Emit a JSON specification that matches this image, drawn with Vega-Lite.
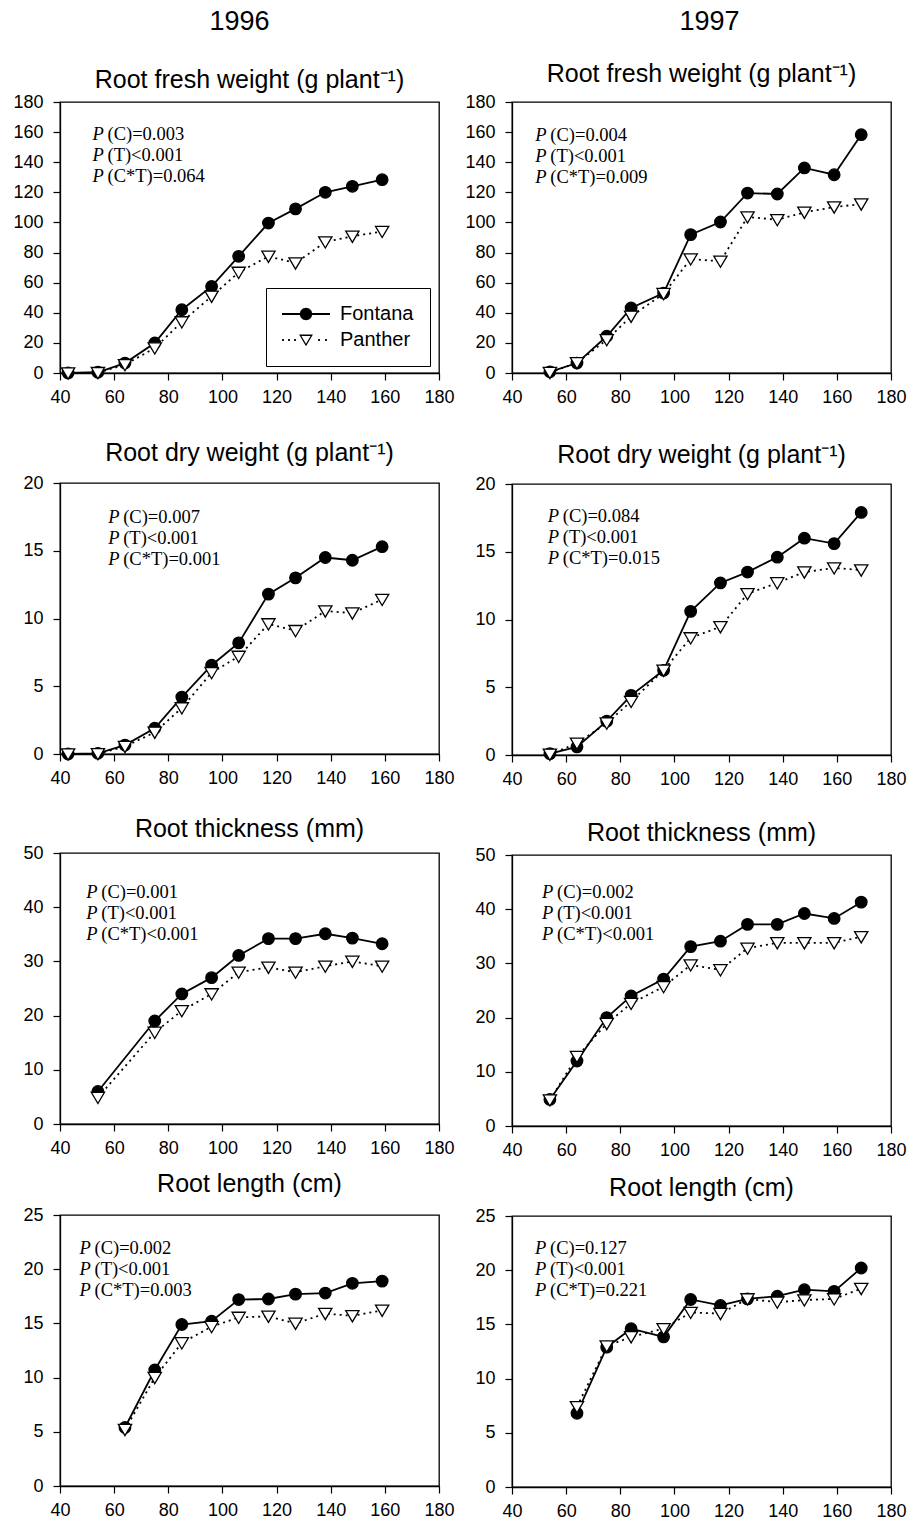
{
  "$schema": "https://vega.github.io/schema/vega-lite/v6.json",
  "padding": {"left": 12, "top": 8, "right": 4, "bottom": 4},
  "background": "white",
  "datasets": {
    "roots": [
      {"year":1996,"trait":"fresh","cultivar":"Fontana","day":43,"value":0},
      {"year":1996,"trait":"fresh","cultivar":"Fontana","day":54,"value":0.5},
      {"year":1996,"trait":"fresh","cultivar":"Fontana","day":64,"value":6.6},
      {"year":1996,"trait":"fresh","cultivar":"Fontana","day":75,"value":19.9},
      {"year":1996,"trait":"fresh","cultivar":"Fontana","day":85,"value":42},
      {"year":1996,"trait":"fresh","cultivar":"Fontana","day":96,"value":57.5},
      {"year":1996,"trait":"fresh","cultivar":"Fontana","day":106,"value":77.5},
      {"year":1996,"trait":"fresh","cultivar":"Fontana","day":117,"value":99.6},
      {"year":1996,"trait":"fresh","cultivar":"Fontana","day":127,"value":109},
      {"year":1996,"trait":"fresh","cultivar":"Fontana","day":138,"value":120},
      {"year":1996,"trait":"fresh","cultivar":"Fontana","day":148,"value":124},
      {"year":1996,"trait":"fresh","cultivar":"Fontana","day":159,"value":128.4},
      {"year":1996,"trait":"fresh","cultivar":"Panther","day":43,"value":0},
      {"year":1996,"trait":"fresh","cultivar":"Panther","day":54,"value":0.2},
      {"year":1996,"trait":"fresh","cultivar":"Panther","day":64,"value":5.5},
      {"year":1996,"trait":"fresh","cultivar":"Panther","day":75,"value":16.6},
      {"year":1996,"trait":"fresh","cultivar":"Panther","day":85,"value":33.9},
      {"year":1996,"trait":"fresh","cultivar":"Panther","day":96,"value":50.9},
      {"year":1996,"trait":"fresh","cultivar":"Panther","day":106,"value":66.8},
      {"year":1996,"trait":"fresh","cultivar":"Panther","day":117,"value":77.5},
      {"year":1996,"trait":"fresh","cultivar":"Panther","day":127,"value":73},
      {"year":1996,"trait":"fresh","cultivar":"Panther","day":138,"value":87},
      {"year":1996,"trait":"fresh","cultivar":"Panther","day":148,"value":90.8},
      {"year":1996,"trait":"fresh","cultivar":"Panther","day":159,"value":94},

      {"year":1997,"trait":"fresh","cultivar":"Fontana","day":54,"value":0.8},
      {"year":1997,"trait":"fresh","cultivar":"Fontana","day":64,"value":6.6},
      {"year":1997,"trait":"fresh","cultivar":"Fontana","day":75,"value":24.4},
      {"year":1997,"trait":"fresh","cultivar":"Fontana","day":84,"value":43.2},
      {"year":1997,"trait":"fresh","cultivar":"Fontana","day":96,"value":53.1},
      {"year":1997,"trait":"fresh","cultivar":"Fontana","day":106,"value":91.9},
      {"year":1997,"trait":"fresh","cultivar":"Fontana","day":117,"value":100.3},
      {"year":1997,"trait":"fresh","cultivar":"Fontana","day":127,"value":119.5},
      {"year":1997,"trait":"fresh","cultivar":"Fontana","day":138,"value":118.9},
      {"year":1997,"trait":"fresh","cultivar":"Fontana","day":148,"value":136.2},
      {"year":1997,"trait":"fresh","cultivar":"Fontana","day":159,"value":131.7},
      {"year":1997,"trait":"fresh","cultivar":"Fontana","day":169,"value":158.3},
      {"year":1997,"trait":"fresh","cultivar":"Panther","day":54,"value":0.3},
      {"year":1997,"trait":"fresh","cultivar":"Panther","day":64,"value":6.8},
      {"year":1997,"trait":"fresh","cultivar":"Panther","day":75,"value":22.1},
      {"year":1997,"trait":"fresh","cultivar":"Panther","day":84,"value":37.6},
      {"year":1997,"trait":"fresh","cultivar":"Panther","day":96,"value":52.7},
      {"year":1997,"trait":"fresh","cultivar":"Panther","day":106,"value":75.7},
      {"year":1997,"trait":"fresh","cultivar":"Panther","day":117,"value":74.2},
      {"year":1997,"trait":"fresh","cultivar":"Panther","day":127,"value":103.6},
      {"year":1997,"trait":"fresh","cultivar":"Panther","day":138,"value":101.8},
      {"year":1997,"trait":"fresh","cultivar":"Panther","day":148,"value":106.7},
      {"year":1997,"trait":"fresh","cultivar":"Panther","day":159,"value":110.2},
      {"year":1997,"trait":"fresh","cultivar":"Panther","day":169,"value":112.2},

      {"year":1996,"trait":"dry","cultivar":"Fontana","day":43,"value":0},
      {"year":1996,"trait":"dry","cultivar":"Fontana","day":54,"value":0.05},
      {"year":1996,"trait":"dry","cultivar":"Fontana","day":64,"value":0.66},
      {"year":1996,"trait":"dry","cultivar":"Fontana","day":75,"value":1.9},
      {"year":1996,"trait":"dry","cultivar":"Fontana","day":85,"value":4.2},
      {"year":1996,"trait":"dry","cultivar":"Fontana","day":96,"value":6.55},
      {"year":1996,"trait":"dry","cultivar":"Fontana","day":106,"value":8.2},
      {"year":1996,"trait":"dry","cultivar":"Fontana","day":117,"value":11.8},
      {"year":1996,"trait":"dry","cultivar":"Fontana","day":127,"value":13.0},
      {"year":1996,"trait":"dry","cultivar":"Fontana","day":138,"value":14.5},
      {"year":1996,"trait":"dry","cultivar":"Fontana","day":148,"value":14.3},
      {"year":1996,"trait":"dry","cultivar":"Fontana","day":159,"value":15.3},
      {"year":1996,"trait":"dry","cultivar":"Panther","day":43,"value":0},
      {"year":1996,"trait":"dry","cultivar":"Panther","day":54,"value":0.02},
      {"year":1996,"trait":"dry","cultivar":"Panther","day":64,"value":0.55},
      {"year":1996,"trait":"dry","cultivar":"Panther","day":75,"value":1.6},
      {"year":1996,"trait":"dry","cultivar":"Panther","day":85,"value":3.4},
      {"year":1996,"trait":"dry","cultivar":"Panther","day":96,"value":6.0},
      {"year":1996,"trait":"dry","cultivar":"Panther","day":106,"value":7.2},
      {"year":1996,"trait":"dry","cultivar":"Panther","day":117,"value":9.6},
      {"year":1996,"trait":"dry","cultivar":"Panther","day":127,"value":9.1},
      {"year":1996,"trait":"dry","cultivar":"Panther","day":138,"value":10.55},
      {"year":1996,"trait":"dry","cultivar":"Panther","day":148,"value":10.4},
      {"year":1996,"trait":"dry","cultivar":"Panther","day":159,"value":11.4},

      {"year":1997,"trait":"dry","cultivar":"Fontana","day":54,"value":0.1},
      {"year":1997,"trait":"dry","cultivar":"Fontana","day":64,"value":0.6},
      {"year":1997,"trait":"dry","cultivar":"Fontana","day":75,"value":2.5},
      {"year":1997,"trait":"dry","cultivar":"Fontana","day":84,"value":4.4},
      {"year":1997,"trait":"dry","cultivar":"Fontana","day":96,"value":6.25},
      {"year":1997,"trait":"dry","cultivar":"Fontana","day":106,"value":10.6},
      {"year":1997,"trait":"dry","cultivar":"Fontana","day":117,"value":12.7},
      {"year":1997,"trait":"dry","cultivar":"Fontana","day":127,"value":13.5},
      {"year":1997,"trait":"dry","cultivar":"Fontana","day":138,"value":14.6},
      {"year":1997,"trait":"dry","cultivar":"Fontana","day":148,"value":16.0},
      {"year":1997,"trait":"dry","cultivar":"Fontana","day":159,"value":15.6},
      {"year":1997,"trait":"dry","cultivar":"Fontana","day":169,"value":17.9},
      {"year":1997,"trait":"dry","cultivar":"Panther","day":54,"value":0.05},
      {"year":1997,"trait":"dry","cultivar":"Panther","day":64,"value":0.86},
      {"year":1997,"trait":"dry","cultivar":"Panther","day":75,"value":2.35},
      {"year":1997,"trait":"dry","cultivar":"Panther","day":84,"value":3.95},
      {"year":1997,"trait":"dry","cultivar":"Panther","day":96,"value":6.25},
      {"year":1997,"trait":"dry","cultivar":"Panther","day":106,"value":8.64},
      {"year":1997,"trait":"dry","cultivar":"Panther","day":117,"value":9.46},
      {"year":1997,"trait":"dry","cultivar":"Panther","day":127,"value":11.9},
      {"year":1997,"trait":"dry","cultivar":"Panther","day":138,"value":12.7},
      {"year":1997,"trait":"dry","cultivar":"Panther","day":148,"value":13.5},
      {"year":1997,"trait":"dry","cultivar":"Panther","day":159,"value":13.8},
      {"year":1997,"trait":"dry","cultivar":"Panther","day":169,"value":13.65},

      {"year":1996,"trait":"thick","cultivar":"Fontana","day":54,"value":6.0},
      {"year":1996,"trait":"thick","cultivar":"Fontana","day":75,"value":19.0},
      {"year":1996,"trait":"thick","cultivar":"Fontana","day":85,"value":24.0},
      {"year":1996,"trait":"thick","cultivar":"Fontana","day":96,"value":27.0},
      {"year":1996,"trait":"thick","cultivar":"Fontana","day":106,"value":31.1},
      {"year":1996,"trait":"thick","cultivar":"Fontana","day":117,"value":34.2},
      {"year":1996,"trait":"thick","cultivar":"Fontana","day":127,"value":34.2},
      {"year":1996,"trait":"thick","cultivar":"Fontana","day":138,"value":35.1},
      {"year":1996,"trait":"thick","cultivar":"Fontana","day":148,"value":34.3},
      {"year":1996,"trait":"thick","cultivar":"Fontana","day":159,"value":33.25},
      {"year":1996,"trait":"thick","cultivar":"Panther","day":54,"value":4.9},
      {"year":1996,"trait":"thick","cultivar":"Panther","day":75,"value":16.9},
      {"year":1996,"trait":"thick","cultivar":"Panther","day":85,"value":20.9},
      {"year":1996,"trait":"thick","cultivar":"Panther","day":96,"value":24.0},
      {"year":1996,"trait":"thick","cultivar":"Panther","day":106,"value":28.0},
      {"year":1996,"trait":"thick","cultivar":"Panther","day":117,"value":28.9},
      {"year":1996,"trait":"thick","cultivar":"Panther","day":127,"value":28.0},
      {"year":1996,"trait":"thick","cultivar":"Panther","day":138,"value":29.1},
      {"year":1996,"trait":"thick","cultivar":"Panther","day":148,"value":30.0},
      {"year":1996,"trait":"thick","cultivar":"Panther","day":159,"value":29.1},

      {"year":1997,"trait":"thick","cultivar":"Fontana","day":54,"value":4.9},
      {"year":1997,"trait":"thick","cultivar":"Fontana","day":64,"value":12.0},
      {"year":1997,"trait":"thick","cultivar":"Fontana","day":75,"value":20.0},
      {"year":1997,"trait":"thick","cultivar":"Fontana","day":84,"value":24.0},
      {"year":1997,"trait":"thick","cultivar":"Fontana","day":96,"value":27.1},
      {"year":1997,"trait":"thick","cultivar":"Fontana","day":106,"value":33.1},
      {"year":1997,"trait":"thick","cultivar":"Fontana","day":117,"value":34.1},
      {"year":1997,"trait":"thick","cultivar":"Fontana","day":127,"value":37.2},
      {"year":1997,"trait":"thick","cultivar":"Fontana","day":138,"value":37.2},
      {"year":1997,"trait":"thick","cultivar":"Fontana","day":148,"value":39.2},
      {"year":1997,"trait":"thick","cultivar":"Fontana","day":159,"value":38.3},
      {"year":1997,"trait":"thick","cultivar":"Fontana","day":169,"value":41.3},
      {"year":1997,"trait":"thick","cultivar":"Panther","day":54,"value":4.8},
      {"year":1997,"trait":"thick","cultivar":"Panther","day":64,"value":12.8},
      {"year":1997,"trait":"thick","cultivar":"Panther","day":75,"value":18.9},
      {"year":1997,"trait":"thick","cultivar":"Panther","day":84,"value":22.6},
      {"year":1997,"trait":"thick","cultivar":"Panther","day":96,"value":25.7},
      {"year":1997,"trait":"thick","cultivar":"Panther","day":106,"value":29.7},
      {"year":1997,"trait":"thick","cultivar":"Panther","day":117,"value":28.8},
      {"year":1997,"trait":"thick","cultivar":"Panther","day":127,"value":32.8},
      {"year":1997,"trait":"thick","cultivar":"Panther","day":138,"value":33.8},
      {"year":1997,"trait":"thick","cultivar":"Panther","day":148,"value":33.8},
      {"year":1997,"trait":"thick","cultivar":"Panther","day":159,"value":33.8},
      {"year":1997,"trait":"thick","cultivar":"Panther","day":169,"value":34.9},

      {"year":1996,"trait":"length","cultivar":"Fontana","day":64,"value":5.4},
      {"year":1996,"trait":"length","cultivar":"Fontana","day":75,"value":10.7},
      {"year":1996,"trait":"length","cultivar":"Fontana","day":85,"value":14.9},
      {"year":1996,"trait":"length","cultivar":"Fontana","day":96,"value":15.2},
      {"year":1996,"trait":"length","cultivar":"Fontana","day":106,"value":17.2},
      {"year":1996,"trait":"length","cultivar":"Fontana","day":117,"value":17.25},
      {"year":1996,"trait":"length","cultivar":"Fontana","day":127,"value":17.7},
      {"year":1996,"trait":"length","cultivar":"Fontana","day":138,"value":17.8},
      {"year":1996,"trait":"length","cultivar":"Fontana","day":148,"value":18.7},
      {"year":1996,"trait":"length","cultivar":"Fontana","day":159,"value":18.9},
      {"year":1996,"trait":"length","cultivar":"Panther","day":64,"value":5.2},
      {"year":1996,"trait":"length","cultivar":"Panther","day":75,"value":10.0},
      {"year":1996,"trait":"length","cultivar":"Panther","day":85,"value":13.2},
      {"year":1996,"trait":"length","cultivar":"Panther","day":96,"value":14.7},
      {"year":1996,"trait":"length","cultivar":"Panther","day":106,"value":15.55},
      {"year":1996,"trait":"length","cultivar":"Panther","day":117,"value":15.65},
      {"year":1996,"trait":"length","cultivar":"Panther","day":127,"value":15.0},
      {"year":1996,"trait":"length","cultivar":"Panther","day":138,"value":15.9},
      {"year":1996,"trait":"length","cultivar":"Panther","day":148,"value":15.7},
      {"year":1996,"trait":"length","cultivar":"Panther","day":159,"value":16.2},

      {"year":1997,"trait":"length","cultivar":"Fontana","day":64,"value":6.8},
      {"year":1997,"trait":"length","cultivar":"Fontana","day":75,"value":12.9},
      {"year":1997,"trait":"length","cultivar":"Fontana","day":84,"value":14.6},
      {"year":1997,"trait":"length","cultivar":"Fontana","day":96,"value":13.85},
      {"year":1997,"trait":"length","cultivar":"Fontana","day":106,"value":17.3},
      {"year":1997,"trait":"length","cultivar":"Fontana","day":117,"value":16.75},
      {"year":1997,"trait":"length","cultivar":"Fontana","day":127,"value":17.35},
      {"year":1997,"trait":"length","cultivar":"Fontana","day":138,"value":17.6},
      {"year":1997,"trait":"length","cultivar":"Fontana","day":148,"value":18.2},
      {"year":1997,"trait":"length","cultivar":"Fontana","day":159,"value":18.05},
      {"year":1997,"trait":"length","cultivar":"Fontana","day":169,"value":20.2},
      {"year":1997,"trait":"length","cultivar":"Panther","day":64,"value":7.4},
      {"year":1997,"trait":"length","cultivar":"Panther","day":75,"value":13.0},
      {"year":1997,"trait":"length","cultivar":"Panther","day":84,"value":13.85},
      {"year":1997,"trait":"length","cultivar":"Panther","day":96,"value":14.6},
      {"year":1997,"trait":"length","cultivar":"Panther","day":106,"value":16.1},
      {"year":1997,"trait":"length","cultivar":"Panther","day":117,"value":16.0},
      {"year":1997,"trait":"length","cultivar":"Panther","day":127,"value":17.35},
      {"year":1997,"trait":"length","cultivar":"Panther","day":138,"value":17.05},
      {"year":1997,"trait":"length","cultivar":"Panther","day":148,"value":17.25},
      {"year":1997,"trait":"length","cultivar":"Panther","day":159,"value":17.35},
      {"year":1997,"trait":"length","cultivar":"Panther","day":169,"value":18.3}
    ]
  },
  "config": {
    "view": {"stroke": "black", "strokeWidth": 1.3},
    "axis": {"grid": false, "domainColor": "black", "domainWidth": 1.3, "tickColor": "black", "tickWidth": 1.2, "tickSize": 7, "labelColor": "black", "labelFont": "Liberation Sans", "labelFontSize": 18, "labelFlush": false, "labelOverlap": false},
    "axisY": {"labelPadding": 10},
    "axisX": {"labelPadding": 8},
    "title": {"font": "Liberation Sans", "fontSize": 25, "fontWeight": "normal", "color": "black", "frame": "group", "anchor": "middle", "baseline": "alphabetic"}
  },
  "resolve": {"scale": {"shape": "independent", "fill": "independent"}, "legend": {"shape": "independent", "fill": "independent"}},
  "spacing": 9,
  "hconcat": [
    {
      "title": {"text": "1996", "fontSize": 27, "offset": 31, "dx": 6, "frame": "bounds"},
      "bounds": "flush",
      "spacing": 110,
      "resolve": {"scale": {"shape": "independent", "fill": "independent"}, "legend": {"shape": "independent", "fill": "independent"}},
      "vconcat": [
        {
          "title": {"text": "Root fresh weight (g plant⁻¹)", "offset": 0},
          "width": 379, "height": 271,
          "data": {"name": "roots"},
          "transform": [{"filter": "datum.year === 1996 && datum.trait === 'fresh'"}],
          "encoding": {
            "x": {"field": "day", "type": "quantitative", "scale": {"domain": [40, 180], "nice": false, "zero": false}, "axis": {"title": null, "values": [40, 60, 80, 100, 120, 140, 160, 180]}},
            "y": {"field": "value", "type": "quantitative", "scale": {"domain": [0, 180], "nice": false}, "axis": {"title": null, "values": [0, 20, 40, 60, 80, 100, 120, 140, 160, 180]}}
          },
          "resolve": {"scale": {"shape": "independent", "fill": "independent"}, "legend": {"shape": "independent", "fill": "independent"}},
          "layer": [
            {"transform": [{"filter": "datum.cultivar === 'Fontana'"}], "mark": {"type": "line", "color": "black", "strokeWidth": 1.8}, "encoding": {}},
            {"transform": [{"filter": "datum.cultivar === 'Panther'"}], "mark": {"type": "line", "color": "black", "strokeWidth": 1.8, "strokeDash": [2, 4]}, "encoding": {}},
            {"mark": {"type": "point", "filled": true, "size": 133, "stroke": "black", "strokeWidth": 1.3, "opacity": 1},
             "encoding": {
               "shape": {"field": "cultivar", "type": "nominal", "scale": {"domain": ["Fontana", "Panther"], "range": ["circle", "M-1.15,-0.9L1.15,-0.9L0,1.05Z"]}, "legend": null},
               "fill": {"field": "cultivar", "type": "nominal", "scale": {"domain": ["Fontana", "Panther"], "range": ["black", "white"]}, "legend": null}
             }},
            {"mark": {"type": "point", "filled": true, "size": 133, "opacity": 0},
             "encoding": {
               "shape": {"field": "cultivar", "type": "nominal", "title": null,
                 "scale": {"domain": ["Fontana", "Panther"], "range": [
                   "M-4,-0.15L4,-0.15L4,0.15L-4,0.15Z M1.05,0L0.909,0.525L0.525,0.909L0,1.05L-0.525,0.909L-0.909,0.525L-1.05,0L-0.909,-0.525L-0.525,-0.909L0,-1.05L0.525,-0.909L0.909,-0.525Z",
                   "M-1.15,-0.9L1.15,-0.9L0,1.05Z M-0.765,-0.68L0,0.617L0.765,-0.68Z M-3.98,-0.15L-3.68,-0.15L-3.68,0.15L-3.98,0.15Z M-2.98,-0.15L-2.68,-0.15L-2.68,0.15L-2.98,0.15Z M-1.98,-0.15L-1.68,-0.15L-1.68,0.15L-1.98,0.15Z M2.02,-0.15L2.32,-0.15L2.32,0.15L2.02,0.15Z M3.18,-0.15L3.48,-0.15L3.48,0.15L3.18,0.15Z"]},
                 "legend": {"orient": "none", "legendX": 206, "legendY": 186, "title": null, "strokeColor": "black", "fillColor": "white", "padding": 16, "labelFont": "Liberation Sans", "labelFontSize": 20, "labelColor": "black", "symbolSize": 144, "symbolOffset": 14, "labelOffset": 24, "rowPadding": 6, "symbolOpacity": 1, "symbolStrokeWidth": 0, "symbolFillColor": "black"}},
               "fill": {"field": "cultivar", "type": "nominal", "title": null, "scale": {"domain": ["Fontana", "Panther"], "range": ["black", "black"]}}
             }},
            {"data": {"values": [{"day": 52, "value": 155, "label": "(C)=0.003\n(T)<0.001\n(C*T)=0.064"}]}, "mark": {"type": "text", "text": "P\nP\nP", "lineBreak": "\n", "lineHeight": 21, "font": "Liberation Serif", "fontSize": 18.5, "fontStyle": "italic", "align": "left", "baseline": "alphabetic", "color": "black"}, "encoding": {}},
            {"data": {"values": [{"day": 52, "value": 155, "label": "(C)=0.003\n(T)<0.001\n(C*T)=0.064"}]}, "mark": {"type": "text", "lineBreak": "\n", "lineHeight": 21, "font": "Liberation Serif", "fontSize": 18.5, "align": "left", "baseline": "alphabetic", "dx": 15, "color": "black"}, "encoding": {"text": {"field": "label"}}}
          ]
        },
        {
          "bounds": "flush",
          "spacing": 99,
          "resolve": {"scale": {"shape": "independent", "fill": "independent"}, "legend": {"shape": "independent", "fill": "independent"}},
          "vconcat": [
            {
              "title": {"text": "Root dry weight (g plant⁻¹)", "offset": 8},
              "width": 379, "height": 271,
              "data": {"name": "roots"},
              "transform": [{"filter": "datum.year === 1996 && datum.trait === 'dry'"}],
              "encoding": {
                "x": {"field": "day", "type": "quantitative", "scale": {"domain": [40, 180], "nice": false, "zero": false}, "axis": {"title": null, "values": [40, 60, 80, 100, 120, 140, 160, 180]}},
                "y": {"field": "value", "type": "quantitative", "scale": {"domain": [0, 20], "nice": false}, "axis": {"title": null, "values": [0, 5, 10, 15, 20]}}
              },
              "layer": [
                {"transform": [{"filter": "datum.cultivar === 'Fontana'"}], "mark": {"type": "line", "color": "black", "strokeWidth": 1.8}, "encoding": {}},
                {"transform": [{"filter": "datum.cultivar === 'Panther'"}], "mark": {"type": "line", "color": "black", "strokeWidth": 1.8, "strokeDash": [2, 4]}, "encoding": {}},
                {"mark": {"type": "point", "filled": true, "size": 133, "stroke": "black", "strokeWidth": 1.3, "opacity": 1},
                 "encoding": {
                   "shape": {"field": "cultivar", "type": "nominal", "scale": {"domain": ["Fontana", "Panther"], "range": ["circle", "M-1.15,-0.9L1.15,-0.9L0,1.05Z"]}, "legend": null},
                   "fill": {"field": "cultivar", "type": "nominal", "scale": {"domain": ["Fontana", "Panther"], "range": ["black", "white"]}, "legend": null}
                 }},
                {"data": {"values": [{"day": 57.8, "value": 17.05, "label": "(C)=0.007\n(T)<0.001\n(C*T)=0.001"}]}, "mark": {"type": "text", "text": "P\nP\nP", "lineBreak": "\n", "lineHeight": 21, "font": "Liberation Serif", "fontSize": 18.5, "fontStyle": "italic", "align": "left", "baseline": "alphabetic", "color": "black"}, "encoding": {}},
                {"data": {"values": [{"day": 57.8, "value": 17.05, "label": "(C)=0.007\n(T)<0.001\n(C*T)=0.001"}]}, "mark": {"type": "text", "lineBreak": "\n", "lineHeight": 21, "font": "Liberation Serif", "fontSize": 18.5, "align": "left", "baseline": "alphabetic", "dx": 15, "color": "black"}, "encoding": {"text": {"field": "label"}}}
              ]
            },
            {
              "bounds": "flush",
              "spacing": 91,
              "resolve": {"scale": {"shape": "independent", "fill": "independent"}, "legend": {"shape": "independent", "fill": "independent"}},
              "vconcat": [
                {
                  "title": {"text": "Root thickness (mm)", "offset": 2},
                  "width": 379, "height": 271,
                  "data": {"name": "roots"},
                  "transform": [{"filter": "datum.year === 1996 && datum.trait === 'thick'"}],
                  "encoding": {
                    "x": {"field": "day", "type": "quantitative", "scale": {"domain": [40, 180], "nice": false, "zero": false}, "axis": {"title": null, "values": [40, 60, 80, 100, 120, 140, 160, 180]}},
                    "y": {"field": "value", "type": "quantitative", "scale": {"domain": [0, 50], "nice": false}, "axis": {"title": null, "values": [0, 10, 20, 30, 40, 50]}}
                  },
                  "layer": [
                    {"transform": [{"filter": "datum.cultivar === 'Fontana'"}], "mark": {"type": "line", "color": "black", "strokeWidth": 1.8}, "encoding": {}},
                    {"transform": [{"filter": "datum.cultivar === 'Panther'"}], "mark": {"type": "line", "color": "black", "strokeWidth": 1.8, "strokeDash": [2, 4]}, "encoding": {}},
                    {"mark": {"type": "point", "filled": true, "size": 133, "stroke": "black", "strokeWidth": 1.3, "opacity": 1},
                     "encoding": {
                       "shape": {"field": "cultivar", "type": "nominal", "scale": {"domain": ["Fontana", "Panther"], "range": ["circle", "M-1.15,-0.9L1.15,-0.9L0,1.05Z"]}, "legend": null},
                       "fill": {"field": "cultivar", "type": "nominal", "scale": {"domain": ["Fontana", "Panther"], "range": ["black", "white"]}, "legend": null}
                     }},
                    {"data": {"values": [{"day": 49.7, "value": 41.7, "label": "(C)=0.001\n(T)<0.001\n(C*T)<0.001"}]}, "mark": {"type": "text", "text": "P\nP\nP", "lineBreak": "\n", "lineHeight": 21, "font": "Liberation Serif", "fontSize": 18.5, "fontStyle": "italic", "align": "left", "baseline": "alphabetic", "color": "black"}, "encoding": {}},
                    {"data": {"values": [{"day": 49.7, "value": 41.7, "label": "(C)=0.001\n(T)<0.001\n(C*T)<0.001"}]}, "mark": {"type": "text", "lineBreak": "\n", "lineHeight": 21, "font": "Liberation Serif", "fontSize": 18.5, "align": "left", "baseline": "alphabetic", "dx": 15, "color": "black"}, "encoding": {"text": {"field": "label"}}}
                  ]
                },
                {
                  "title": {"text": "Root length (cm)", "offset": 9},
                  "width": 379, "height": 271,
                  "data": {"name": "roots"},
                  "transform": [{"filter": "datum.year === 1996 && datum.trait === 'length'"}],
                  "encoding": {
                    "x": {"field": "day", "type": "quantitative", "scale": {"domain": [40, 180], "nice": false, "zero": false}, "axis": {"title": null, "values": [40, 60, 80, 100, 120, 140, 160, 180]}},
                    "y": {"field": "value", "type": "quantitative", "scale": {"domain": [0, 25], "nice": false}, "axis": {"title": null, "values": [0, 5, 10, 15, 20, 25]}}
                  },
                  "layer": [
                    {"transform": [{"filter": "datum.cultivar === 'Fontana'"}], "mark": {"type": "line", "color": "black", "strokeWidth": 1.8}, "encoding": {}},
                    {"transform": [{"filter": "datum.cultivar === 'Panther'"}], "mark": {"type": "line", "color": "black", "strokeWidth": 1.8, "strokeDash": [2, 4]}, "encoding": {}},
                    {"mark": {"type": "point", "filled": true, "size": 133, "stroke": "black", "strokeWidth": 1.3, "opacity": 1},
                     "encoding": {
                       "shape": {"field": "cultivar", "type": "nominal", "scale": {"domain": ["Fontana", "Panther"], "range": ["circle", "M-1.15,-0.9L1.15,-0.9L0,1.05Z"]}, "legend": null},
                       "fill": {"field": "cultivar", "type": "nominal", "scale": {"domain": ["Fontana", "Panther"], "range": ["black", "white"]}, "legend": null}
                     }},
                    {"data": {"values": [{"day": 47.2, "value": 21.4, "label": "(C)=0.002\n(T)<0.001\n(C*T)=0.003"}]}, "mark": {"type": "text", "text": "P\nP\nP", "lineBreak": "\n", "lineHeight": 21, "font": "Liberation Serif", "fontSize": 18.5, "fontStyle": "italic", "align": "left", "baseline": "alphabetic", "color": "black"}, "encoding": {}},
                    {"data": {"values": [{"day": 47.2, "value": 21.4, "label": "(C)=0.002\n(T)<0.001\n(C*T)=0.003"}]}, "mark": {"type": "text", "lineBreak": "\n", "lineHeight": 21, "font": "Liberation Serif", "fontSize": 18.5, "align": "left", "baseline": "alphabetic", "dx": 15, "color": "black"}, "encoding": {"text": {"field": "label"}}}
                  ]
                }
              ]
            }
          ]
        }
      ]
    },
    {
      "title": {"text": "1997", "fontSize": 27, "offset": 25, "dx": 24, "frame": "bounds"},
      "bounds": "flush",
      "spacing": 111,
      "resolve": {"scale": {"shape": "independent", "fill": "independent"}, "legend": {"shape": "independent", "fill": "independent"}},
      "vconcat": [
        {
          "title": {"text": "Root fresh weight (g plant⁻¹)", "offset": 6},
          "width": 379, "height": 271,
          "data": {"name": "roots"},
          "transform": [{"filter": "datum.year === 1997 && datum.trait === 'fresh'"}],
          "encoding": {
            "x": {"field": "day", "type": "quantitative", "scale": {"domain": [40, 180], "nice": false, "zero": false}, "axis": {"title": null, "values": [40, 60, 80, 100, 120, 140, 160, 180]}},
            "y": {"field": "value", "type": "quantitative", "scale": {"domain": [0, 180], "nice": false}, "axis": {"title": null, "values": [0, 20, 40, 60, 80, 100, 120, 140, 160, 180]}}
          },
          "layer": [
            {"transform": [{"filter": "datum.cultivar === 'Fontana'"}], "mark": {"type": "line", "color": "black", "strokeWidth": 1.8}, "encoding": {}},
            {"transform": [{"filter": "datum.cultivar === 'Panther'"}], "mark": {"type": "line", "color": "black", "strokeWidth": 1.8, "strokeDash": [2, 4]}, "encoding": {}},
            {"mark": {"type": "point", "filled": true, "size": 133, "stroke": "black", "strokeWidth": 1.3, "opacity": 1},
             "encoding": {
               "shape": {"field": "cultivar", "type": "nominal", "scale": {"domain": ["Fontana", "Panther"], "range": ["circle", "M-1.15,-0.9L1.15,-0.9L0,1.05Z"]}, "legend": null},
               "fill": {"field": "cultivar", "type": "nominal", "scale": {"domain": ["Fontana", "Panther"], "range": ["black", "white"]}, "legend": null}
             }},
            {"data": {"values": [{"day": 48.6, "value": 154, "label": "(C)=0.004\n(T)<0.001\n(C*T)=0.009"}]}, "mark": {"type": "text", "text": "P\nP\nP", "lineBreak": "\n", "lineHeight": 21, "font": "Liberation Serif", "fontSize": 18.5, "fontStyle": "italic", "align": "left", "baseline": "alphabetic", "color": "black"}, "encoding": {}},
            {"data": {"values": [{"day": 48.6, "value": 154, "label": "(C)=0.004\n(T)<0.001\n(C*T)=0.009"}]}, "mark": {"type": "text", "lineBreak": "\n", "lineHeight": 21, "font": "Liberation Serif", "fontSize": 18.5, "align": "left", "baseline": "alphabetic", "dx": 15, "color": "black"}, "encoding": {"text": {"field": "label"}}}
          ]
        },
        {
          "bounds": "flush",
          "spacing": 100,
          "resolve": {"scale": {"shape": "independent", "fill": "independent"}, "legend": {"shape": "independent", "fill": "independent"}},
          "vconcat": [
            {
              "title": {"text": "Root dry weight (g plant⁻¹)", "offset": 7},
              "width": 379, "height": 271,
              "data": {"name": "roots"},
              "transform": [{"filter": "datum.year === 1997 && datum.trait === 'dry'"}],
              "encoding": {
                "x": {"field": "day", "type": "quantitative", "scale": {"domain": [40, 180], "nice": false, "zero": false}, "axis": {"title": null, "values": [40, 60, 80, 100, 120, 140, 160, 180]}},
                "y": {"field": "value", "type": "quantitative", "scale": {"domain": [0, 20], "nice": false}, "axis": {"title": null, "values": [0, 5, 10, 15, 20]}}
              },
              "layer": [
                {"transform": [{"filter": "datum.cultivar === 'Fontana'"}], "mark": {"type": "line", "color": "black", "strokeWidth": 1.8}, "encoding": {}},
                {"transform": [{"filter": "datum.cultivar === 'Panther'"}], "mark": {"type": "line", "color": "black", "strokeWidth": 1.8, "strokeDash": [2, 4]}, "encoding": {}},
                {"mark": {"type": "point", "filled": true, "size": 133, "stroke": "black", "strokeWidth": 1.3, "opacity": 1},
                 "encoding": {
                   "shape": {"field": "cultivar", "type": "nominal", "scale": {"domain": ["Fontana", "Panther"], "range": ["circle", "M-1.15,-0.9L1.15,-0.9L0,1.05Z"]}, "legend": null},
                   "fill": {"field": "cultivar", "type": "nominal", "scale": {"domain": ["Fontana", "Panther"], "range": ["black", "white"]}, "legend": null}
                 }},
                {"data": {"values": [{"day": 53.2, "value": 17.2, "label": "(C)=0.084\n(T)<0.001\n(C*T)=0.015"}]}, "mark": {"type": "text", "text": "P\nP\nP", "lineBreak": "\n", "lineHeight": 21, "font": "Liberation Serif", "fontSize": 18.5, "fontStyle": "italic", "align": "left", "baseline": "alphabetic", "color": "black"}, "encoding": {}},
                {"data": {"values": [{"day": 53.2, "value": 17.2, "label": "(C)=0.084\n(T)<0.001\n(C*T)=0.015"}]}, "mark": {"type": "text", "lineBreak": "\n", "lineHeight": 21, "font": "Liberation Serif", "fontSize": 18.5, "align": "left", "baseline": "alphabetic", "dx": 15, "color": "black"}, "encoding": {"text": {"field": "label"}}}
              ]
            },
            {
              "bounds": "flush",
              "spacing": 90,
              "resolve": {"scale": {"shape": "independent", "fill": "independent"}, "legend": {"shape": "independent", "fill": "independent"}},
              "vconcat": [
                {
                  "title": {"text": "Root thickness (mm)", "offset": 0},
                  "width": 379, "height": 271,
                  "data": {"name": "roots"},
                  "transform": [{"filter": "datum.year === 1997 && datum.trait === 'thick'"}],
                  "encoding": {
                    "x": {"field": "day", "type": "quantitative", "scale": {"domain": [40, 180], "nice": false, "zero": false}, "axis": {"title": null, "values": [40, 60, 80, 100, 120, 140, 160, 180]}},
                    "y": {"field": "value", "type": "quantitative", "scale": {"domain": [0, 50], "nice": false}, "axis": {"title": null, "values": [0, 10, 20, 30, 40, 50]}}
                  },
                  "layer": [
                    {"transform": [{"filter": "datum.cultivar === 'Fontana'"}], "mark": {"type": "line", "color": "black", "strokeWidth": 1.8}, "encoding": {}},
                    {"transform": [{"filter": "datum.cultivar === 'Panther'"}], "mark": {"type": "line", "color": "black", "strokeWidth": 1.8, "strokeDash": [2, 4]}, "encoding": {}},
                    {"mark": {"type": "point", "filled": true, "size": 133, "stroke": "black", "strokeWidth": 1.3, "opacity": 1},
                     "encoding": {
                       "shape": {"field": "cultivar", "type": "nominal", "scale": {"domain": ["Fontana", "Panther"], "range": ["circle", "M-1.15,-0.9L1.15,-0.9L0,1.05Z"]}, "legend": null},
                       "fill": {"field": "cultivar", "type": "nominal", "scale": {"domain": ["Fontana", "Panther"], "range": ["black", "white"]}, "legend": null}
                     }},
                    {"data": {"values": [{"day": 51.1, "value": 42.0, "label": "(C)=0.002\n(T)<0.001\n(C*T)<0.001"}]}, "mark": {"type": "text", "text": "P\nP\nP", "lineBreak": "\n", "lineHeight": 21, "font": "Liberation Serif", "fontSize": 18.5, "fontStyle": "italic", "align": "left", "baseline": "alphabetic", "color": "black"}, "encoding": {}},
                    {"data": {"values": [{"day": 51.1, "value": 42.0, "label": "(C)=0.002\n(T)<0.001\n(C*T)<0.001"}]}, "mark": {"type": "text", "lineBreak": "\n", "lineHeight": 21, "font": "Liberation Serif", "fontSize": 18.5, "align": "left", "baseline": "alphabetic", "dx": 15, "color": "black"}, "encoding": {"text": {"field": "label"}}}
                  ]
                },
                {
                  "title": {"text": "Root length (cm)", "offset": 6},
                  "width": 379, "height": 271,
                  "data": {"name": "roots"},
                  "transform": [{"filter": "datum.year === 1997 && datum.trait === 'length'"}],
                  "encoding": {
                    "x": {"field": "day", "type": "quantitative", "scale": {"domain": [40, 180], "nice": false, "zero": false}, "axis": {"title": null, "values": [40, 60, 80, 100, 120, 140, 160, 180]}},
                    "y": {"field": "value", "type": "quantitative", "scale": {"domain": [0, 25], "nice": false}, "axis": {"title": null, "values": [0, 5, 10, 15, 20, 25]}}
                  },
                  "layer": [
                    {"transform": [{"filter": "datum.cultivar === 'Fontana'"}], "mark": {"type": "line", "color": "black", "strokeWidth": 1.8}, "encoding": {}},
                    {"transform": [{"filter": "datum.cultivar === 'Panther'"}], "mark": {"type": "line", "color": "black", "strokeWidth": 1.8, "strokeDash": [2, 4]}, "encoding": {}},
                    {"mark": {"type": "point", "filled": true, "size": 133, "stroke": "black", "strokeWidth": 1.3, "opacity": 1},
                     "encoding": {
                       "shape": {"field": "cultivar", "type": "nominal", "scale": {"domain": ["Fontana", "Panther"], "range": ["circle", "M-1.15,-0.9L1.15,-0.9L0,1.05Z"]}, "legend": null},
                       "fill": {"field": "cultivar", "type": "nominal", "scale": {"domain": ["Fontana", "Panther"], "range": ["black", "white"]}, "legend": null}
                     }},
                    {"data": {"values": [{"day": 48.5, "value": 21.5, "label": "(C)=0.127\n(T)<0.001\n(C*T)=0.221"}]}, "mark": {"type": "text", "text": "P\nP\nP", "lineBreak": "\n", "lineHeight": 21, "font": "Liberation Serif", "fontSize": 18.5, "fontStyle": "italic", "align": "left", "baseline": "alphabetic", "color": "black"}, "encoding": {}},
                    {"data": {"values": [{"day": 48.5, "value": 21.5, "label": "(C)=0.127\n(T)<0.001\n(C*T)=0.221"}]}, "mark": {"type": "text", "lineBreak": "\n", "lineHeight": 21, "font": "Liberation Serif", "fontSize": 18.5, "align": "left", "baseline": "alphabetic", "dx": 15, "color": "black"}, "encoding": {"text": {"field": "label"}}}
                  ]
                }
              ]
            }
          ]
        }
      ]
    }
  ]
}
